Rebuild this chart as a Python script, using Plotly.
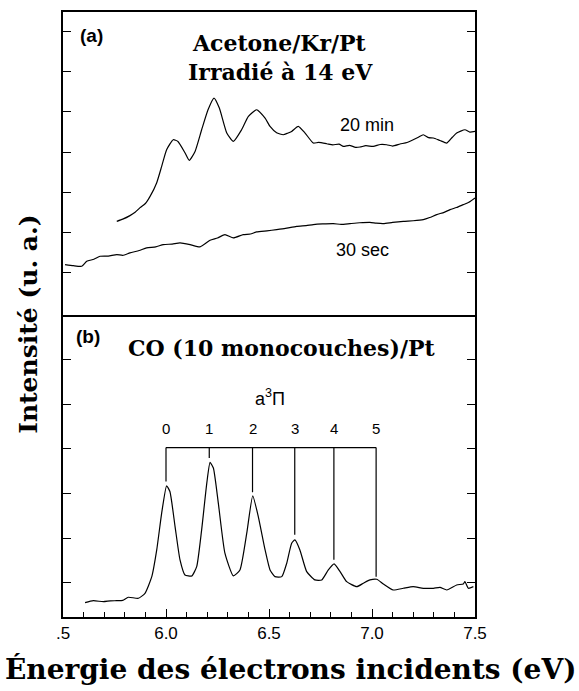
import plotly.graph_objects as go
from plotly.subplots import make_subplots

# energy (eV) / intensity (arb. units, 1 = one y tick)
trace_20min = [
    (5.761, 1.276), (5.79, 1.33), (5.825, 1.418), (5.85, 1.50), (5.874, 1.617),
    (5.90, 1.72), (5.922, 1.890), (5.955, 2.239), (5.979, 2.644), (6.003, 3.059),
    (6.035, 3.308), (6.058, 3.266), (6.092, 2.985), (6.113, 2.793), (6.141, 3.017),
    (6.173, 3.557), (6.204, 4.055), (6.233, 4.346), (6.259, 4.097), (6.295, 3.475),
    (6.327, 3.266), (6.367, 3.557), (6.400, 3.888), (6.440, 4.055), (6.481, 3.848),
    (6.505, 3.639), (6.537, 3.482), (6.569, 3.433), (6.590, 3.47), (6.610, 3.515),
    (6.642, 3.639), (6.675, 3.475), (6.715, 3.226), (6.74, 3.24), (6.78, 3.209),
    (6.81, 3.18), (6.84, 3.20), (6.861, 3.142), (6.89, 3.17), (6.92, 3.12),
    (6.942, 3.127), (6.97, 3.16), (7.006, 3.142), (7.04, 3.19), (7.071, 3.184),
    (7.10, 3.15), (7.136, 3.201), (7.17, 3.24), (7.200, 3.308), (7.225, 3.37),
    (7.249, 3.433), (7.275, 3.36), (7.298, 3.351), (7.33, 3.29), (7.363, 3.226),
    (7.39, 3.37), (7.411, 3.475), (7.451, 3.557), (7.475, 3.50), (7.500, 3.515),
]

trace_30sec = [
    (5.510, 0.199), (5.55, 0.17), (5.591, 0.156), (5.615, 0.281), (5.65, 0.33),
    (5.680, 0.405), (5.72, 0.41), (5.761, 0.448), (5.79, 0.43), (5.825, 0.490),
    (5.87, 0.55), (5.906, 0.614), (5.95, 0.64), (5.987, 0.696), (6.03, 0.71),
    (6.068, 0.739), (6.117, 0.696), (6.165, 0.639), (6.214, 0.803), (6.25, 0.86),
    (6.286, 0.945), (6.327, 0.863), (6.375, 0.945), (6.41, 0.96), (6.440, 1.012),
    (6.49, 1.04), (6.537, 1.069), (6.58, 1.10), (6.634, 1.152), (6.68, 1.17),
    (6.715, 1.194), (6.76, 1.21), (6.812, 1.219), (6.85, 1.20), (6.893, 1.219),
    (6.94, 1.24), (6.990, 1.251), (7.02, 1.23), (7.055, 1.219), (7.10, 1.25),
    (7.152, 1.276), (7.20, 1.29), (7.249, 1.318), (7.28, 1.37), (7.314, 1.443),
    (7.35, 1.50), (7.379, 1.567), (7.41, 1.62), (7.443, 1.691), (7.47, 1.75),
    (7.500, 1.858),
]

trace_co = [
    (5.607, -0.441), (5.647, -0.397), (5.696, -0.419), (5.73, -0.40), (5.761, -0.397),
    (5.79, -0.39), (5.817, -0.320), (5.866, -0.343), (5.898, -0.231), (5.931, 0.142),
    (5.955, 0.740), (5.979, 1.563), (6.003, 2.175), (6.019, 2.047), (6.044, 1.263),
    (6.068, 0.516), (6.092, 0.180), (6.125, 0.157), (6.149, 0.366), (6.173, 1.189),
    (6.198, 2.236), (6.214, 2.698), (6.230, 2.572), (6.254, 1.787), (6.286, 0.666),
    (6.327, 0.157), (6.359, 0.292), (6.392, 1.115), (6.421, 1.951), (6.448, 1.487),
    (6.481, 0.740), (6.505, 0.292), (6.529, 0.142), (6.562, 0.142), (6.586, 0.442),
    (6.610, 0.890), (6.626, 0.964), (6.650, 0.740), (6.683, 0.254), (6.723, 0.068),
    (6.756, 0.068), (6.788, 0.292), (6.816, 0.426), (6.845, 0.254), (6.877, 0.029),
    (6.926, -0.083), (6.958, -0.006), (6.990, 0.068), (7.023, 0.083), (7.055, -0.022),
    (7.103, -0.157), (7.152, -0.119), (7.200, -0.083), (7.249, -0.119), (7.298, -0.119),
    (7.330, -0.10), (7.363, -0.157), (7.411, -0.045), (7.443, -0.022), (7.451, 0.029),
    (7.468, -0.119), (7.492, -0.083),
]

# a3Pi vibrational levels: energy, label, bottom of the marker line
levels_ev = [6.00, 6.21, 6.42, 6.625, 6.815, 7.02]
levels_lbl = ["0", "1", "2", "3", "4", "5"]
levels_bottom = [2.27, 2.80, 2.03, 1.08, 0.52, 0.14]
bar_y = 3.03
lbl_y = 3.45

xticks = [5.5, 6.0, 6.5, 7.0, 7.5]
xticklabels = [".5", "6.0", "6.5", "7.0", "7.5"]

serif = "DejaVu Serif"
sans = "Liberation Sans, Arial"

fig = make_subplots(rows=2, cols=1, shared_xaxes=True, vertical_spacing=0)

line = dict(color="black", width=1.2, shape="spline", smoothing=0.5)
for pts, r in [(trace_20min, 1), (trace_30sec, 1), (trace_co, 2)]:
    fig.add_trace(go.Scatter(x=[p[0] for p in pts], y=[p[1] for p in pts],
                             mode="lines", line=line, showlegend=False,
                             hoverinfo="skip"), row=r, col=1)

# bracket for the vibrational progression
bx, by = [levels_ev[0], levels_ev[-1], None], [bar_y, bar_y, None]
for e, b in zip(levels_ev, levels_bottom):
    bx += [e, e, None]
    by += [bar_y, b, None]
fig.add_trace(go.Scatter(x=bx, y=by, mode="lines",
                         line=dict(color="black", width=1.2),
                         showlegend=False, hoverinfo="skip"), row=2, col=1)


def label(x, y, text, size, family=sans, ref="1", **kw):
    xr = "paper" if ref == "paper" else "x" + ("" if ref == "1" else ref)
    yr = "paper" if ref == "paper" else "y" + ("" if ref == "1" else ref)
    return dict(x=x, y=y, xref=xr, yref=yr, text=text, showarrow=False,
                xanchor="center", yanchor="middle",
                font=dict(family=family, size=size, color="black"), **kw)


ann = [label(e, lbl_y, t, 15, ref="2") for e, t in zip(levels_ev, levels_lbl)]
ann += [
    label(6.505, 4.15, "a<sup>3</sup>Π", 18, ref="2"),
    label(5.621, 5.52, "<b>(b)</b>", 19, ref="2"),
    label(6.563, 5.27, "<b>CO (10 monocouches)/Pt</b>", 22, serif, ref="2"),
    label(5.636, 5.90, "<b>(a)</b>", 19),
    label(6.553, 5.72, "<b>Acetone/Kr/Pt</b>", 22, serif),
    label(6.558, 5.00, "<b>Irradié à 14 eV</b>", 22, serif),
    label(6.976, 3.68, "20 min", 18),
    label(6.956, 0.57, "30 sec", 18),
    label(0.551, -0.0876, "<b>Énergie des électrons incidents (eV)</b>", 28,
          serif, ref="paper"),
    label(-0.0825, 0.483, "<b>Intensité (u. a.)</b>", 25, serif, ref="paper",
          textangle=-90),
]

frame = dict(showline=True, linecolor="black", linewidth=1.5, showgrid=False,
             zeroline=False, automargin=False)
fig.update_xaxes(range=[5.5, 7.5], **frame)
fig.update_xaxes(showticklabels=False, ticks="", mirror=True, row=1, col=1)
fig.update_xaxes(mirror=False, ticks="inside", ticklen=8, tickwidth=1.2,
                 tickcolor="black", tickvals=xticks, ticktext=xticklabels,
                 tickfont=dict(family=sans, size=17, color="black"),
                 minor=dict(ticks="inside", ticklen=5, tickwidth=1.2,
                            tickcolor="black", tick0=5.5, dtick=0.1),
                 row=2, col=1)
fig.update_yaxes(mirror="ticks", ticks="inside", ticklen=8, tickwidth=1.2,
                 tickcolor="black", showticklabels=False, **frame)
fig.update_yaxes(range=[-1.045, 6.49], tickvals=[0, 1, 2, 3, 4, 5, 6], row=1, col=1)
fig.update_yaxes(range=[-0.762, 6.01], tickvals=[0, 1, 2, 3, 4, 5], row=2, col=1)

fig.update_layout(width=579, height=691, margin=dict(l=63, r=104, t=12, b=74),
                  paper_bgcolor="white", plot_bgcolor="white",
                  annotations=ann, showlegend=False)

# drop the browser's default body margin so the figure sits at the page corner
fig.write_html("out.html", config={"displayModeBar": False},
               post_script="document.body.style.margin='0';"
                           "document.body.style.overflow='hidden';")
